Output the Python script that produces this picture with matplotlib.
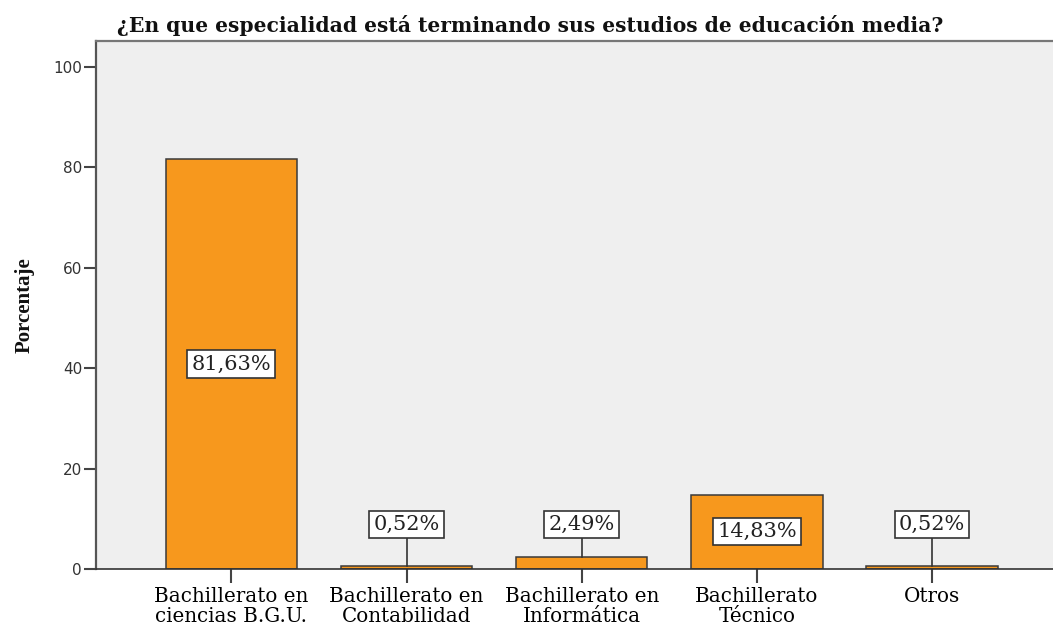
import matplotlib
matplotlib.use("Agg")
import matplotlib.pyplot as plt

categories = ["Bachillerato en\nciencias B.G.U.", "Bachillerato en\nContabilidad",
              "Bachillerato en\nInformática", "Bachillerato\nTécnico", "Otros"]
values = [81.63, 0.52, 2.49, 14.83, 0.52]
labels = ["81,63%", "0,52%", "2,49%", "14,83%", "0,52%"]
yticks = [0, 20, 40, 60, 80, 100]

fig = plt.figure(figsize=(10.53, 6.27), dpi=100)
ax = fig.add_axes([96/1053, 1 - 569/627, 1 - 96/1053, (569 - 41)/627])
ax.set_facecolor("#EFEFEF")

x = list(range(len(values)))
ax.bar(x, values, width=0.75, color="#F7981D", edgecolor="#3a3a3a", linewidth=1.1, zorder=2)

ax.set_xlim(-0.773, 4.69)
ax.set_ylim(0, 105.2)
ax.set_yticks(yticks)
ax.set_yticklabels([str(t) for t in yticks], fontsize=11, color="#333333", family="DejaVu Sans")
ax.set_xticks(x)
ax.set_xticklabels(categories, fontsize=14.3, family="DejaVu Serif", linespacing=1.08)
ax.tick_params(axis="y", length=9, width=1.5, color="#444444", pad=1)
ax.tick_params(axis="x", length=10, width=1.5, color="#444444", pad=3)

ax.spines["right"].set_visible(False)
ax.spines["left"].set_color("#555555")
ax.spines["left"].set_linewidth(1.6)
ax.spines["top"].set_color("#777777")
ax.spines["top"].set_linewidth(1.6)
ax.spines["bottom"].set_color("#333333")
ax.spines["bottom"].set_linewidth(1.2)

for i, (v, lab) in enumerate(zip(values, labels)):
    if v > 10:
        ly = v / 2
    else:
        ly = 8.9
        ax.plot([i, i], [v, ly], color="#333333", linewidth=1.2, zorder=3)
    ax.text(i, ly, lab, ha="center", va="center", fontsize=15, family="DejaVu Serif",
            color="#222222", zorder=4,
            bbox=dict(boxstyle="square,pad=0.2", facecolor="white", edgecolor="#333333", linewidth=1.2))

fig.text(117/1053, 1 - 32/627, "¿En que especialidad está terminando sus estudios de educación media?",
         ha="left", va="baseline", fontsize=14.6, fontweight="bold", family="DejaVu Serif", color="#111111")
fig.text(25/1053, 1 - 305/627, "Porcentaje", rotation=90, ha="center", va="center",
         fontsize=15, fontweight="bold", family="Liberation Serif", color="#111111")

fig.savefig("out.png", dpi=100, facecolor="white")
